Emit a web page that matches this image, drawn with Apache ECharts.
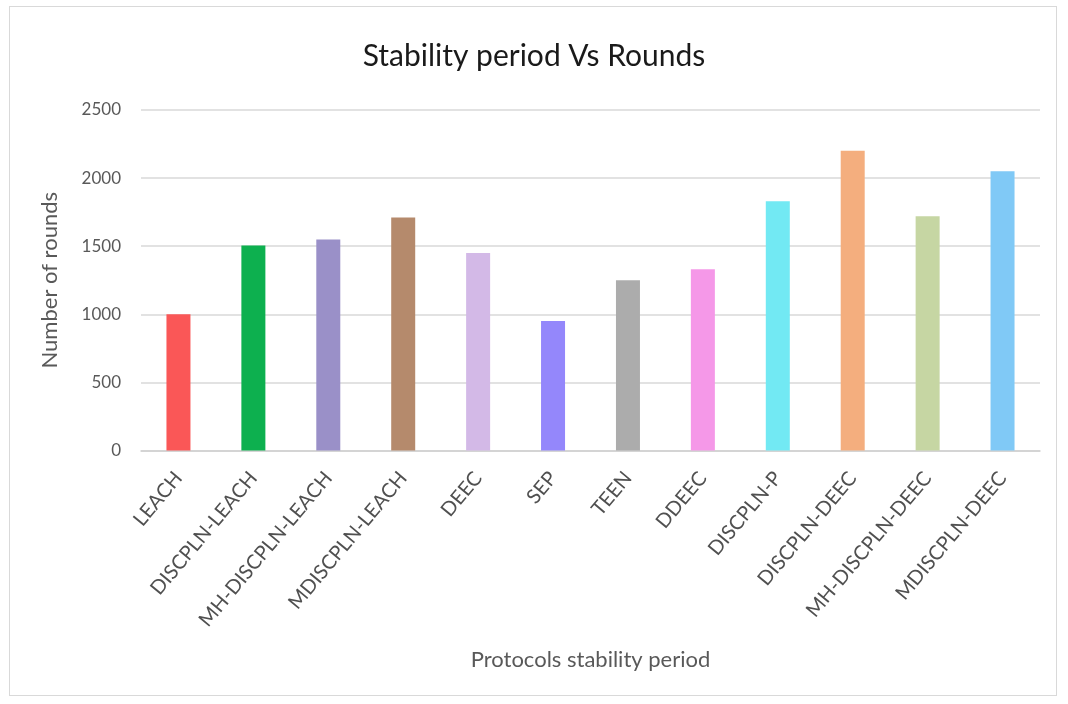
<!DOCTYPE html>
<html>
<head>
<meta charset="utf-8">
<script src="https://cdn.jsdelivr.net/npm/echarts@6/dist/echarts.min.js"></script>
<style>
  html, body { margin: 0; padding: 0; background: #fff; }
  #frame { position: absolute; left: 9px; top: 6px; width: 1046px; height: 688px; border: 1px solid #d9d9d9; }
  #stability-chart { position: absolute; left: 0; top: 0; width: 1068px; height: 704px; }
</style>
</head>
<body>
<div id="frame"></div>
<div id="stability-chart"></div>
<script>
var protocols = ['LEACH', 'DISCPLN-LEACH', 'MH-DISCPLN-LEACH', 'MDISCPLN-LEACH', 'DEEC', 'SEP',
  'TEEN', 'DDEEC', 'DISCPLN-P', 'DISCPLN-DEEC', 'MH-DISCPLN-DEEC', 'MDISCPLN-DEEC'];
var rounds = [1000, 1505, 1550, 1710, 1450, 950, 1250, 1330, 1830, 2200, 1720, 2050];
var barColors = ['#fa5757', '#0db04f', '#9a90c8', '#b58a6c', '#d3b9e7', '#9487fb',
  '#acacac', '#f598e8', '#72e9f3', '#f4ae7e', '#c6d6a3', '#80c9f6'];
var yTicks = [0, 500, 1000, 1500, 2000, 2500];

var myChart = echarts.init(document.getElementById('stability-chart'));
var option = {
  title: {
    text: 'Stability period Vs Rounds',
    left: 'center',
    top: 36,
    textStyle: { fontFamily: 'Lato', fontSize: 30, fontWeight: 'normal', color: '#1a1a1a' }
  },
  grid: { left: 141, right: 28, top: 110, bottom: 253.5 },
  xAxis: {
    type: 'category',
    data: protocols,
    name: 'Protocols stability period',
    nameLocation: 'middle',
    nameGap: 198,
    nameTextStyle: { fontFamily: 'Lato', fontSize: 22, color: '#595959' },
    axisLine: { lineStyle: { color: '#d0d0d0', width: 1.5 } },
    axisTick: { show: false },
    axisLabel: {
      rotate: 50,
      margin: 24,
      fontFamily: 'Lato',
      fontSize: 20,
      color: '#505050'
    }
  },
  yAxis: {
    type: 'value',
    min: yTicks[0],
    max: yTicks[yTicks.length - 1],
    interval: 500,
    name: 'Number of rounds',
    nameLocation: 'middle',
    nameGap: 80,
    nameTextStyle: { fontFamily: 'Lato', fontSize: 22, color: '#595959' },
    axisLine: { show: false },
    axisTick: { show: false },
    axisLabel: {
      margin: 20, fontFamily: 'Lato', fontSize: 17, color: '#595959',
      formatter: function (v) { return String(v); }
    },
    splitLine: { lineStyle: { color: '#d9d9d9', width: 1.5 } }
  },
  series: [{
    type: 'bar',
    barWidth: 24,
    data: rounds.map(function (v, i) {
      return { value: v, itemStyle: { color: barColors[i] } };
    })
  }]
};
myChart.setOption(option);
</script>
</body>
</html>
